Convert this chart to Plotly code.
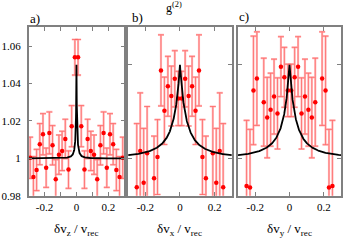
import numpy as np
import plotly.graph_objects as go

# ---------------- data ----------------
x_a = [-0.29, -0.27, -0.25, -0.23, -0.21, -0.19, -0.17, -0.15, -0.13, -0.11, -0.09, -0.07, -0.05, -0.03, -0.01,
       0.01, 0.03, 0.05, 0.07, 0.09, 0.11, 0.13, 0.15, 0.17, 0.19, 0.21, 0.23, 0.25, 0.27, 0.29]
g_a = [1.0003, 0.990, 0.9938, 1.0076, 1.0129, 0.995, 1.0136, 1.007, 0.9888, 1.002, 1.004, 1.0104, 0.994, 1.0172, 1.054,
       1.054, 1.0172, 0.994, 1.0104, 1.004, 1.002, 0.9888, 1.007, 1.0136, 0.995, 1.0129, 1.0076, 0.9938, 0.990, 1.0003]
err_a = [0.011, 0.011, 0.011, 0.011, 0.011, 0.0105, 0.0112, 0.0105, 0.0105, 0.0105, 0.0105, 0.0105, 0.0100, 0.011, 0.0095,
         0.0095, 0.011, 0.0100, 0.0105, 0.0105, 0.0105, 0.0105, 0.0105, 0.0112, 0.0105, 0.011, 0.011, 0.011, 0.011, 0.011]

x_b = [-0.25, -0.23, -0.21, -0.19, -0.15, -0.13, -0.11, -0.09, -0.07, -0.05, -0.03, -0.01,
       0.01, 0.03, 0.05, 0.07, 0.09, 0.11, 0.13, 0.15, 0.19, 0.21, 0.23, 0.25]
g_b = [0.9846, 1.004, 0.987, 1.0027, 0.9894, 1.0007, 1.047, 1.0254, 1.0385, 1.0333, 1.0425, 1.032,
       1.032, 1.0425, 1.0333, 1.0385, 1.0254, 1.047, 1.0007, 0.9894, 1.0027, 0.987, 1.004, 0.9846]
err_b = [0.034, 0.031, 0.029, 0.025, 0.0225, 0.020, 0.019, 0.018, 0.016, 0.016, 0.015, 0.0145,
         0.0145, 0.015, 0.016, 0.016, 0.018, 0.019, 0.020, 0.0225, 0.025, 0.029, 0.031, 0.034]

x_c = [-0.25, -0.23, -0.21, -0.19, -0.15, -0.13, -0.11, -0.09, -0.07, -0.05, -0.03, -0.01,
       0.01, 0.03, 0.05, 0.07, 0.09, 0.11, 0.13, 0.15, 0.19, 0.21, 0.23, 0.25]
g_c = [0.9853, 0.9845, 1.0363, 1.0426, 1.030, 1.0218, 1.026, 1.033, 1.024, 1.049, 1.0433, 1.0363,
       1.0363, 1.0433, 1.049, 1.024, 1.033, 1.026, 1.0218, 1.030, 1.0426, 1.0363, 0.9845, 0.9853]
err_c = [0.035, 0.031, 0.029, 0.025, 0.0235, 0.0215, 0.0195, 0.020, 0.019, 0.016, 0.016, 0.014,
         0.014, 0.016, 0.016, 0.019, 0.020, 0.0195, 0.0215, 0.0235, 0.025, 0.029, 0.031, 0.035]

# fitted model curves: g2 = 1 + amp / (1 + |dv|/width)^2
fit_amp = 0.05
fit_width_a = 0.006
fit_width_bc = 0.068

y_ticks_a = [0.98, 1.0, 1.02, 1.04, 1.06]
y_ticktext_a = ["0.98", "1", "1.02", "1.04", "1.06"]
x_ticks = [-0.2, 0.0, 0.2]
x_ticktext = ["-0.2", "0", "0.2"]
x_minor_ticks_a = [-0.1, 0.1]
y_ticks_bc = [1.0, 1.05]

x_titles = ["δv<sub>z</sub> / v<sub>rec</sub>", "δv<sub>x</sub> / v<sub>rec</sub>", "δv<sub>y</sub> / v<sub>rec</sub>"]
panel_labels = ["a)", "b)", "c)"]

# ---------------- figure ----------------
W, H = 343, 247
FONT = "Liberation Serif"
AX_COL = "#808080"

x_curve = np.linspace(-0.3, 0.3, 1201)

def model(x, w):
    return 1 + fit_amp / (1 + np.abs(x) / w) ** 2

fig = go.Figure()

panels = [
    (x_a, g_a, err_a, fit_width_a, "x", "y"),
    (x_b, g_b, err_b, fit_width_bc, "x2", "y2"),
    (x_c, g_c, err_c, fit_width_bc, "x3", "y3"),
]
for xs, ys, es, w, xa, ya in panels:
    fig.add_trace(go.Scatter(x=xs, y=ys, mode="markers", xaxis=xa, yaxis=ya,
                             marker=dict(size=1, color="rgba(0,0,0,0)"),
                             error_y=dict(type="data", array=es, color="#ffbcbc", thickness=2.2, width=3),
                             showlegend=False, hoverinfo="skip"))
    fig.add_trace(go.Scatter(x=xs, y=ys, mode="markers", xaxis=xa, yaxis=ya,
                             marker=dict(size=4.5, color="#ff0000", symbol="circle"),
                             error_y=dict(type="data", array=es, color="#ff5a5a", thickness=0.7, width=3),
                             showlegend=False))
    fig.add_trace(go.Scatter(x=x_curve, y=model(x_curve, w), mode="lines", xaxis=xa, yaxis=ya,
                             line=dict(color="black", width=1.8), showlegend=False))

doms = [(28.7, 124.7), (128.5, 232.5), (238.7, 342.0)]
ydom = [1 - 200.7 / H, 1 - 28 / H]

common_x = dict(range=[-0.3, 0.3], showline=True, linecolor=AX_COL, linewidth=1.5, mirror="ticks",
                ticks="inside", ticklen=4, tickcolor=AX_COL, tickwidth=1, showgrid=False, zeroline=False,
                tickvals=x_ticks, ticktext=x_ticktext,
                tickfont=dict(family=FONT, size=11, color="black"))
common_y = dict(range=[0.98, 1.07], showline=True, linecolor=AX_COL, linewidth=1.5, mirror="ticks",
                ticks="inside", ticklen=4, tickcolor=AX_COL, tickwidth=1, showgrid=False, zeroline=False,
                tickfont=dict(family=FONT, size=11, color="black"))

fig.update_layout(
    width=W, height=H, margin=dict(l=0, r=0, t=0, b=0),
    paper_bgcolor="white", plot_bgcolor="white",
    xaxis=dict(common_x, domain=[doms[0][0] / W, doms[0][1] / W], anchor="y",
               minor=dict(tickvals=x_minor_ticks_a, ticks="inside", ticklen=4, tickcolor=AX_COL,
                          tickwidth=1, showgrid=False)),
    xaxis2=dict(common_x, domain=[doms[1][0] / W, doms[1][1] / W], anchor="y2"),
    xaxis3=dict(common_x, domain=[doms[2][0] / W, doms[2][1] / W], anchor="y3"),
    yaxis=dict(common_y, domain=ydom, anchor="x", tickvals=y_ticks_a, ticktext=y_ticktext_a,
               ticklabelstandoff=4),
    yaxis2=dict(common_y, domain=ydom, anchor="x2", tickvals=y_ticks_bc, showticklabels=False),
    yaxis3=dict(common_y, domain=ydom, anchor="x3", tickvals=y_ticks_bc, showticklabels=False),
)

title_cx = [76.5, 180.5, 290.3]
for t, cx in zip(x_titles, title_cx):
    fig.add_annotation(text=t, x=cx / W, y=1 - 235 / H, xref="paper", yref="paper",
                       xanchor="center", yanchor="middle", showarrow=False,
                       font=dict(family=FONT, size=13, color="black"))

label_pos = [(28, 19), (130, 17.5), (238, 17)]
for t, (lx, ly) in zip(panel_labels, label_pos):
    fig.add_annotation(text=t, x=lx / W, y=1 - ly / H, xref="paper", yref="paper",
                       xanchor="left", yanchor="middle", showarrow=False,
                       font=dict(family=FONT, size=13, color="black"))

fig.add_annotation(text="g<sup>(2)</sup>", x=175 / W, y=1 - 8 / H, xref="paper", yref="paper",
                   xanchor="center", yanchor="middle", showarrow=False,
                   font=dict(family=FONT, size=12, color="black"))

fig.write_html("out.html", config={"displayModeBar": False},
               post_script="document.body.style.margin='0';document.body.style.overflow='hidden';")
